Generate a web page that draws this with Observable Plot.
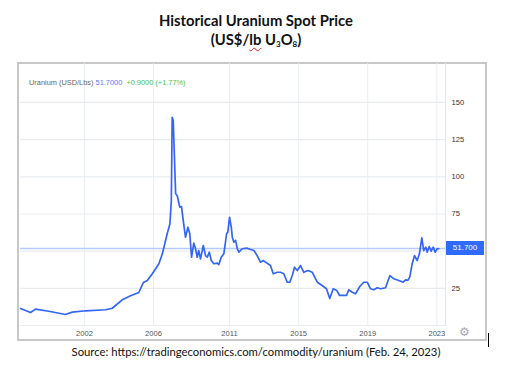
<!DOCTYPE html>
<html>
<head>
<meta charset="utf-8">
<script src="https://cdn.jsdelivr.net/npm/d3@7"></script>
<script src="https://cdn.jsdelivr.net/npm/@observablehq/plot@0.6"></script>
<style>
  html, body { margin: 0; padding: 0; background: #fff; }
  #page { position: relative; width: 512px; height: 372px; overflow: hidden; background: #fff; }
  .title { position: absolute; left: 0; width: 512px; text-align: center; font-family: Lato, "Open Sans", sans-serif; font-weight: 700; color: #111; }
  #t1 { top: 11px; font-size: 14.8px; }
  #t2 { top: 30px; font-size: 14.8px; }
  #t2 sub { font-size: 8px; vertical-align: -2px; line-height: 0; }
  .squig { text-decoration: underline wavy #e02020; text-decoration-thickness: 1px; text-underline-offset: 2px; }
  #frame { position: absolute; left: 17px; top: 62px; width: 470px; height: 279px; box-sizing: border-box; border: 2px solid #c8c8c8; }
  #chart { position: absolute; left: 18px; top: 63px; }
  #legend { position: absolute; left: 29px; top: 78px; font-family: "Liberation Sans", Arial, sans-serif; font-size: 7.4px; white-space: pre; }
  #caption { position: absolute; left: 0; top: 345px; width: 512px; text-align: center; font-family: Lato, "Open Sans", sans-serif; font-size: 11.3px; color: #111; }
  #lastbox { position: absolute; left: 446px; width: 38px; height: 14px; background: #2f6bff; color: #fff; font-family: "Liberation Sans", Arial, sans-serif; font-size: 8px; line-height: 14px; text-align: center; }
  #gear { position: absolute; left: 459px; top: 325px; font-family: "DejaVu Sans", sans-serif; font-size: 12px; color: #a8a8a8; }
  #cursor { position: absolute; left: 488px; top: 333px; width: 1px; height: 14px; background: #000; }
</style>
</head>
<body>
<div id="page">
  <div class="title" id="t1">Historical Uranium Spot Price</div>
  <div class="title" id="t2">(US$/<span class="squig">lb</span> U<sub>3</sub>O<sub>8</sub>)</div>
  <div id="frame"></div>
  <div id="chart"></div>
  <div id="legend"><span style="color:#666">Uranium (USD/Lbs)</span> <span style="color:#5b78ff">51.7000</span>  <span style="color:#4cc24c">+0.9000 (+1.77%)</span></div>
  <div id="caption">Source: https://tradingeconomics.com/commodity/uranium (Feb. 24, 2023)</div>
  <div id="gear">⚙</div>
  <div id="cursor"></div>
</div>
<script>
// ---- Data ----
const years = [
  1998.90, 1999.19, 1999.48, 1999.77, 2000.54, 2001.50, 2001.90, 2002.67, 2003.82, 2004.21,
  2004.79, 2005.27, 2005.75, 2006.01, 2006.24, 2006.53, 2006.91, 2007.11, 2007.39, 2007.55,
  2007.63, 2007.68, 2007.74, 2007.88, 2007.97, 2008.12, 2008.22, 2008.32, 2008.45, 2008.59,
  2008.70, 2008.80, 2008.93, 2009.03, 2009.13, 2009.22, 2009.32, 2009.48, 2009.61, 2009.71,
  2009.83, 2009.94, 2010.09, 2010.29, 2010.38, 2010.52, 2010.67, 2010.83, 2010.90, 2011.00,
  2011.10, 2011.16, 2011.25, 2011.35, 2011.45, 2011.54, 2011.73, 2012.02, 2012.22, 2012.41,
  2012.60, 2012.79, 2012.95, 2013.08, 2013.37, 2013.53, 2013.76, 2013.95, 2014.14, 2014.34,
  2014.49, 2014.63, 2014.76, 2014.92, 2015.11, 2015.30, 2015.53, 2015.79, 2016.08, 2016.36,
  2016.61, 2016.80, 2017.00, 2017.21, 2017.37, 2017.61, 2017.77, 2017.90, 2018.10, 2018.29,
  2018.54, 2018.77, 2018.97, 2019.16, 2019.35, 2019.55, 2019.74, 2020.03, 2020.28, 2020.51,
  2020.80, 2021.05, 2021.19, 2021.32, 2021.43, 2021.57, 2021.71, 2021.86, 2021.99, 2022.13,
  2022.24, 2022.36, 2022.44, 2022.56, 2022.67, 2022.79, 2022.90, 2023.02, 2023.11
];
const prices = [
  11.4, 10.1, 8.7, 11.0, 9.6, 7.4, 9.0, 9.9, 10.6, 11.6,
  17.3, 20.0, 22.2, 28.9, 30.3, 34.8, 41.5, 48.2, 61.7, 68.4,
  84.0, 140.0, 137.9, 88.6, 87.4, 79.6, 80.0, 70.6, 59.4, 66.1,
  61.7, 45.9, 55.4, 51.6, 45.9, 50.4, 44.8, 53.8, 47.0, 45.9,
  49.3, 43.7, 41.5, 42.0, 41.0, 45.9, 48.2, 61.7, 62.8, 72.8,
  66.1, 59.4, 56.0, 57.2, 51.6, 49.3, 51.6, 52.0, 51.1, 50.4,
  47.0, 42.6, 43.7, 42.6, 40.3, 34.8, 35.8, 35.8, 34.8, 29.1,
  29.1, 33.6, 39.2, 37.0, 40.3, 35.8, 37.0, 35.8, 29.1, 26.9,
  24.7, 18.2, 24.7, 23.5, 20.2, 20.2, 20.2, 24.0, 22.4, 21.3,
  26.2, 29.1, 29.1, 24.7, 24.0, 25.4, 24.7, 25.4, 33.6, 31.4,
  30.3, 29.1, 30.7, 30.3, 32.5, 41.5, 47.0, 43.7, 48.2, 59.0,
  50.4, 52.7, 49.3, 53.1, 50.0, 52.7, 49.3, 51.6, 51.7
];
const lastPrice = 51.7;
const xTickYears = [2002.6, 2006.6, 2011, 2015, 2019, 2023];
const xTickLabels = ["2002", "2006", "2011", "2015", "2019", "2023"];
const yGridValues = [0, 25, 50, 75, 100, 125, 150];
const yTickValues = [25, 75, 100, 125, 150];

const data = years.map((x, i) => ({x, y: prices[i]}));

const chart = Plot.plot({
  width: 468,
  height: 276,
  marginLeft: 2,
  marginRight: 41,
  marginTop: 0,
  marginBottom: 14,
  style: {fontFamily: "'Liberation Sans', Arial, sans-serif", fontSize: "7.6px", background: "transparent"},
  x: {domain: [1998.9, 2023.5], axis: null, label: null},
  y: {domain: [0, 176.2], axis: null, label: null},
  marks: [
    Plot.ruleY(yGridValues, {stroke: "#e9ecef", strokeWidth: 1.2}),
    Plot.ruleX(xTickYears, {stroke: "#e8eef3", strokeWidth: 1}),
    Plot.frame({anchor: "right", stroke: "#e3e8ec", strokeWidth: 1}),
    Plot.ruleY([lastPrice], {stroke: "#b7c9ff", strokeWidth: 1.5}),
    Plot.line(data, {x: "x", y: "y", stroke: "#3366f5", strokeWidth: 1.7, strokeLinejoin: "round"}),
    Plot.axisY({ticks: yTickValues, anchor: "right", label: null, tickSize: 0, tickPadding: 6, fill: "#333", textAnchor: "start"}),
    Plot.axisX({ticks: xTickYears, tickFormat: d => xTickLabels[xTickYears.indexOf(d)], anchor: "bottom", label: null, tickSize: 0, tickPadding: 5, fill: "#555"})
  ]
});
document.getElementById("chart").appendChild(chart);

const yPix = chart.scale("y").apply(lastPrice);
const box = document.createElement("div");
box.id = "lastbox";
box.textContent = lastPrice.toFixed(3);
box.style.top = (63 + yPix - 7) + "px";
document.getElementById("page").appendChild(box);
</script>
</body>
</html>
